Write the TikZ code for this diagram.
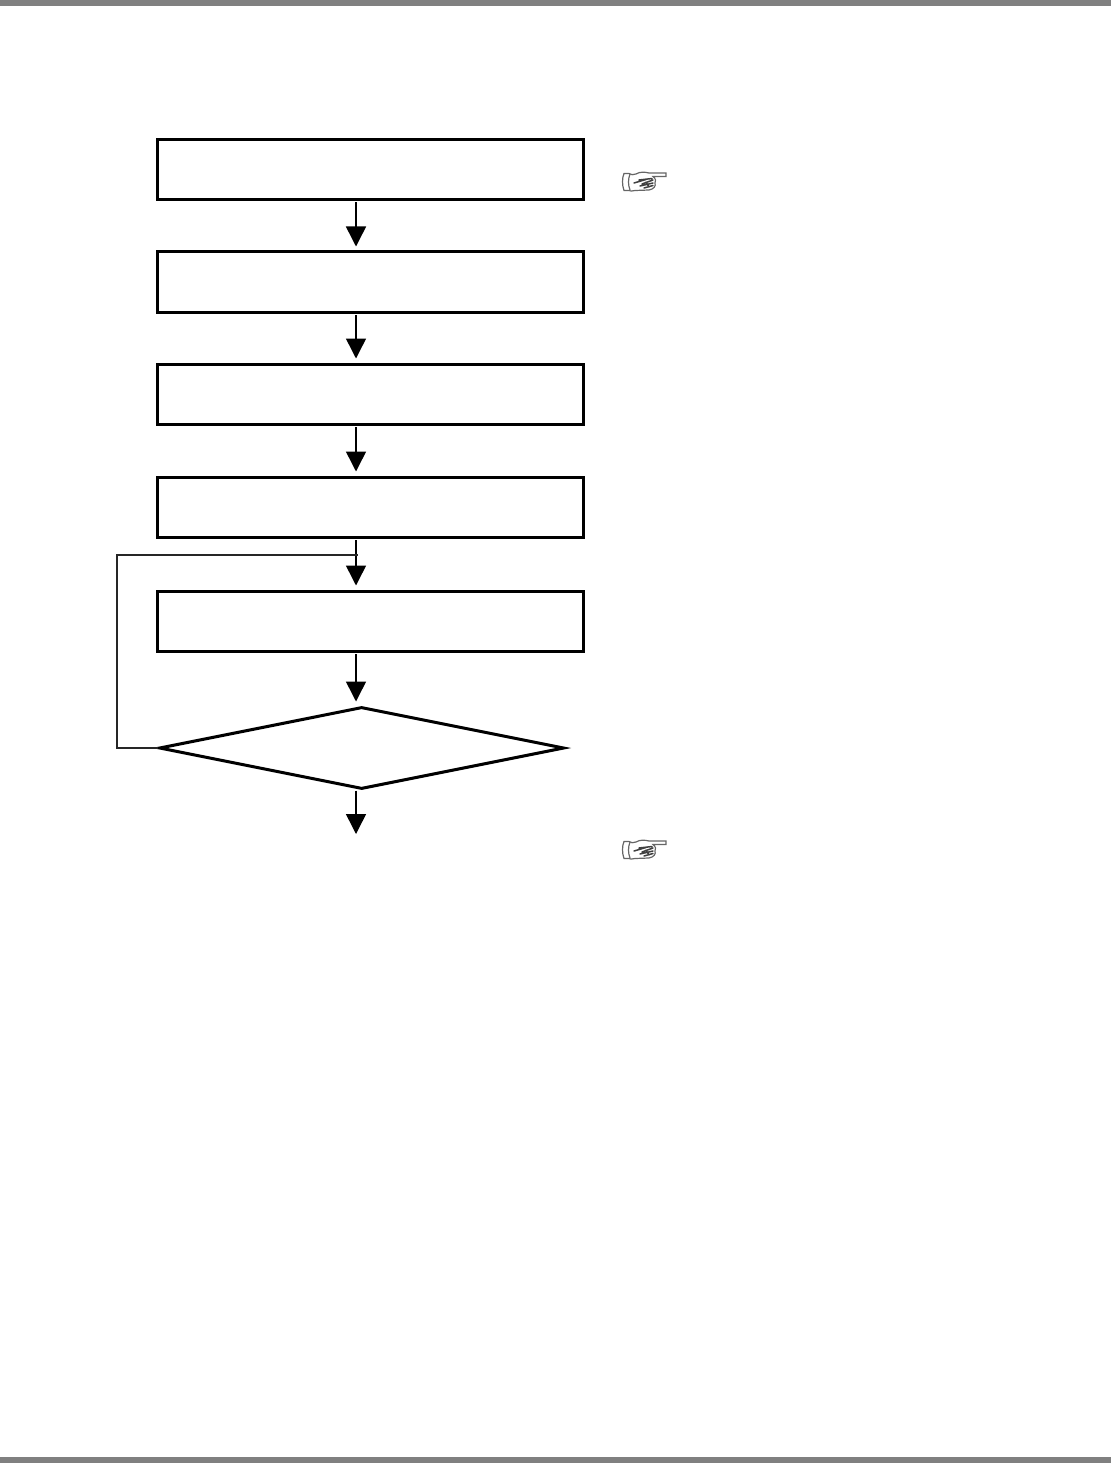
\documentclass[tikz,border=0pt]{standalone}
\usetikzlibrary{arrows.meta,shapes.geometric}
\definecolor{barcolor}{gray}{0.5}
\tikzset{
  stepbox/.style={draw,line width=3pt,minimum width=426pt,minimum height=60pt,inner sep=0pt},
  flow/.style={line width=1.5pt,-{Triangle[length=20pt,width=20pt]},shorten <=1.5pt,shorten >=4pt},
  loopline/.style={line width=1.5pt,draw=black!85},
  hand/.style={line width=1.2pt,draw=black!60,fill=white},
  handinner/.style={line width=1.5pt,draw=black!75,line cap=round}
}
% pointing hand, origin at its upper left corner
\newcommand{\pointinghand}[2]{
  \begin{scope}[xshift=#1pt,yshift=-#2pt]
    \draw[hand] (27,1) -- (44,1) -- (44,4.5) -- (31,4.5)
      .. controls (34,7) and (34,9) .. (33,11)
      .. controls (34,14) and (32,17) .. (27,18)
      -- (13,18.5) .. controls (10,19.5) and (8,19) .. (7,18.5)
      -- (2,18.5) .. controls (0,13) and (0,6) .. (2,1.5) -- (7,1.5)
      .. controls (9,3) and (11,3) .. (14,2) .. controls (18,-0.5) and (23,0) .. (27,1) -- cycle;
    \draw[hand,fill=none] (8,2) .. controls (6,7) and (6,13) .. (8,18);
    \draw[handinner] (12,11) -- (24,7.5) (17,8) -- (30,6.5) (20,12) -- (31,8)
      (18,14) -- (31,11) (22,16) -- (31,13.5) (24,10) -- (27,15);
  \end{scope}
}
\begin{document}
\begin{tikzpicture}[x=1pt,y=-1pt]
  \useasboundingbox (0,0) rectangle (1111,1463);

  \fill[barcolor] (0,0) rectangle (1111,6);
  \fill[barcolor] (0,1457) rectangle (1111,1463);

  \node[stepbox] (box1) at (370.5,169.5) {};
  \node[stepbox] (box2) at (370.5,282) {};
  \node[stepbox] (box3) at (370.5,394) {};
  \node[stepbox] (box4) at (370.5,507) {};
  \node[stepbox] (box5) at (370.5,621) {};
  \node[diamond,draw,line width=3pt,minimum width=405pt,minimum height=82pt,inner sep=0pt] (check) at (361.7,748) {};

  \coordinate (axis) at (356,0);
  \coordinate (exit) at (356,838);
  \coordinate (loopcorner) at (117,555);
  \coordinate (loopend) at (358,555);

  \foreach \from/\to in {box1/box2,box2/box3,box3/box4,box4/box5,box5/check}
    \draw[flow] (\from.south -| axis) -- (\to.north -| axis);
  \draw[flow,shorten <=0pt] (check.south -| axis) -- (exit);

  \draw[loopline] (check.west) -| (loopcorner) -- (loopend);

  \pointinghand{622}{172}
  \pointinghand{622}{840}
\end{tikzpicture}
\end{document}
